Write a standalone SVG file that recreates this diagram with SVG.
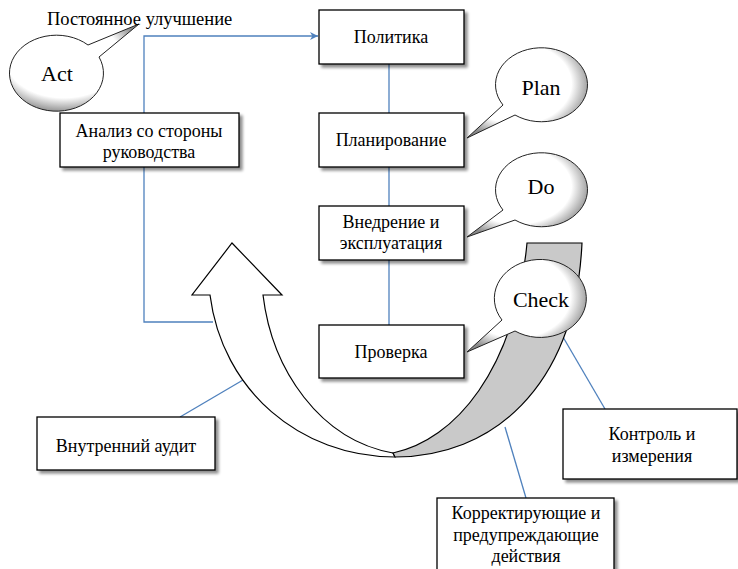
<svg xmlns="http://www.w3.org/2000/svg" width="738" height="569" viewBox="0 0 738 569">
<style>
.box{fill:#fff;stroke:#000;stroke-width:1.3;filter:url(#sh)}
.t{font-family:"Liberation Serif","Times New Roman",serif;font-size:18px;fill:#000;text-anchor:middle}
.bt{font-family:"Liberation Serif","Times New Roman",serif;font-size:22px;fill:#000;text-anchor:middle}
.ln{fill:none;stroke:#4f81bd;stroke-width:1.3}
.bub{stroke:#222;stroke-width:1}
.arr{stroke:#000;stroke-width:1.2;stroke-linejoin:miter}
</style>
<defs>
<filter id="sh" x="-10%" y="-10%" width="130%" height="140%">
<feGaussianBlur in="SourceAlpha" stdDeviation="1.8"/>
<feOffset dx="3" dy="3" result="b"/>
<feComponentTransfer><feFuncA type="linear" slope="0.45"/></feComponentTransfer>
<feMerge><feMergeNode/><feMergeNode in="SourceGraphic"/></feMerge>
</filter>
<radialGradient id="g" gradientUnits="objectBoundingBox" cx="0.42" cy="0.4" r="0.62">
<stop offset="0" stop-color="#fff"/>
<stop offset="0.72" stop-color="#fff"/>
<stop offset="1" stop-color="#8a8a8a"/>
</radialGradient>
<marker id="ah" viewBox="0 0 10 10" refX="10" refY="5" markerWidth="8" markerHeight="8" markerUnits="userSpaceOnUse" orient="auto">
<path d="M0,0 L10,5 L0,10 L3,5 Z" fill="#4f81bd"/>
</marker>
</defs>

<g id="connectors">
<path class="ln" d="M144,113 L144,36 L318,36" marker-end="url(#ah)"/>
<path class="ln" d="M144,167 L144,322 L213,322"/>
<path class="ln" d="M389,64 L389,113"/>
<path class="ln" d="M389,167 L389,206"/>
<path class="ln" d="M389,260 L389,325"/>
<path class="ln" d="M180,417 L243,380"/>
<path class="ln" d="M563,337 L605,409"/>
<path class="ln" d="M505,427 L526,498"/>
</g>

<g id="cycle-arrow">
<path class="arr" fill="#fff" d="M210,295 L192,295 L232,243 L282,295 L263,295 C272,370 320,440 393,453 L395,457 C300,457 222,390 210,295 Z"/>
<path class="arr" fill="#c9c9c9" d="M393,453 C455,440 515,370 527,243 L582,243 C575,390 490,457 395,457 Z"/>
</g>

<g id="politika"><rect class="box" x="319" y="10" width="145" height="54"/><text class="t" x="391" y="43">Политика</text></g>
<g id="planirovanie"><rect class="box" x="319" y="113" width="145" height="54"/><text class="t" x="391" y="146">Планирование</text></g>
<g id="vnedrenie"><rect class="box" x="319" y="206" width="145" height="54"/><text class="t" x="391" y="228">Внедрение и</text><text class="t" x="391" y="249">эксплуатация</text></g>
<g id="proverka"><rect class="box" x="319" y="325" width="145" height="53"/><text class="t" x="391" y="358">Проверка</text></g>
<g id="analiz"><rect class="box" x="60" y="113" width="179" height="54"/><text class="t" x="149" y="137">Анализ со стороны</text><text class="t" x="149" y="158">руководства</text></g>
<g id="audit"><rect class="box" x="37" y="417" width="178" height="53"/><text class="t" x="126" y="452">Внутренний аудит</text></g>
<g id="kontrol"><rect class="box" x="563" y="409" width="174" height="70"/><text class="t" x="652" y="440">Контроль и</text><text class="t" x="652" y="462">измерения</text></g>
<g id="korrekt"><rect class="box" x="437" y="498" width="177" height="80"/><text class="t" x="526" y="519">Корректирующие и</text><text class="t" x="526" y="541">предупреждающие</text><text class="t" x="526" y="562">действия</text></g>

<g id="act"><path class="bub" fill="url(#g)" d="M88,45 L139,24 L99,57 A47,38 0 1 1 88,45 Z"/><text class="bt" x="57" y="81">Act</text></g>
<g id="plan"><path class="bub" fill="url(#g)" d="M503,105 L467,138 L515,115 A46,37 0 1 0 503,105 Z"/><text class="bt" x="541" y="95">Plan</text></g>
<g id="do"><path class="bub" fill="url(#g)" d="M503,210 L467,237 L515,220 A46,37 0 1 0 503,210 Z"/><text class="bt" x="541" y="194">Do</text></g>
<g id="check"><path class="bub" fill="url(#g)" d="M502,320 L467,352 L515,331 A46,39 0 1 0 502,320 Z"/><text class="bt" x="541" y="307">Check</text></g>

<text id="caption" x="47" y="25" font-family="Liberation Serif, Times New Roman, serif" font-size="18.5" fill="#000">Постоянное улучшение</text>
</svg>
